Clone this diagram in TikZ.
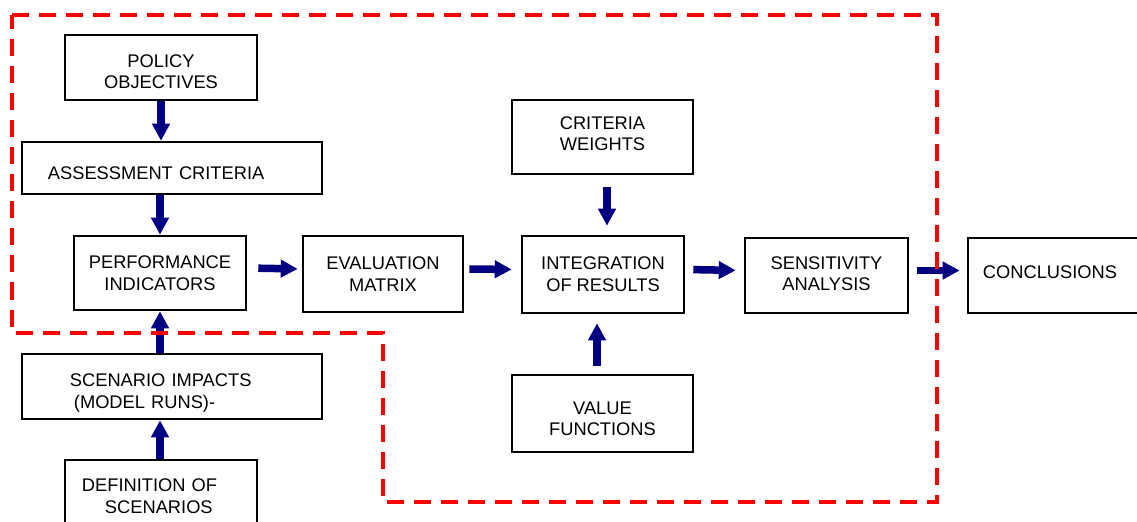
\documentclass[tikz,border=0pt]{standalone}
\usepackage{fontspec}
\setmainfont{Liberation Sans}
\usetikzlibrary{positioning}
\usetikzlibrary{arrows.meta}
\definecolor{arrowblue}{RGB}{0,0,128}
\definecolor{boundred}{RGB}{255,0,0}
% struts to move text a bit down (first line) or up (last line)
\newcommand{\dropby}[1]{\rule{0pt}{\dimexpr3.75pt+#1*2\relax}}
\newcommand{\liftby}[1]{\rule[-\dimexpr#1*2\relax]{0pt}{\dimexpr#1*2\relax}}
\tikzset{%
  r/.style = {rectangle,draw,line width=0.7pt,inner sep=0pt,align=center,
        font=\fontsize{5.2}{6.15}\selectfont},
  fat/.style = {-{Triangle[length=0.17cm,width=0.17cm]},draw=arrowblue,
        fill=arrowblue,line width=0.075cm},
  boundary/.style = {draw=boundred,line width=0.04cm,
        dash pattern=on 0.17cm off 0.1cm}
}
\begin{document}
\begin{tikzpicture}[x=0.01cm,y=-0.01cm]
                \useasboundingbox (0,0) rectangle (1137,521);
                \clip (0,0) rectangle (1137,521);
                % left column
                \node[r, minimum width=1.92cm, minimum height=0.65cm] (po) at (161,67.5) {\dropby{1.14pt}POLICY\\OBJECTIVES};
                \node[r, minimum height=0.52cm, text width=2.48cm, inner xsep=0.26cm, align=left] (ac) at (172,168) {\dropby{1.42pt}ASSESSMENT CRITERIA};
                \node[r, minimum width=1.72cm, minimum height=0.74cm] (pi) at (160,273) {PERFORMANCE\\INDICATORS};
                \node[r, minimum height=0.65cm, text width=2.04cm, inner xsep=0.48cm, align=left] (si) at (172,386.5) {\dropby{1.7pt}SCENARIO IMPACTS\\\hspace*{0.04cm}(MODEL RUNS)-};
                \node[r, minimum height=0.65cm, text width=1.58cm, inner xsep=0.17cm, align=left] (ds) at (161,492.5) {\dropby{1pt}DEFINITION OF\\\hspace*{0.23cm}SCENARIOS};
                % main row
                \node[r, minimum width=1.60cm, minimum height=0.76cm] (em) at (383,274) {EVALUATION\\MATRIX};
                \node[r, minimum width=1.62cm, minimum height=0.77cm] (ir) at (603,274.5) {INTEGRATION\\OF RESULTS};
                \node[r, minimum width=1.63cm, minimum height=0.75cm] (sa) at (826.5,275.5) {SENSITIVITY\\ANALYSIS\liftby{0.57pt}};
                \node[r, minimum height=0.75cm, text width=1.45cm, inner xsep=0.15cm, align=left] (co) at (1055.5,275.5) {CONCLUSIONS\liftby{0.85pt}};
                \node[r, minimum width=1.81cm, minimum height=0.74cm] (cw) at (602.5,137) {CRITERIA\\WEIGHTS\liftby{1pt}};
                \node[r, minimum width=1.81cm, minimum height=0.77cm] (vf) at (602.5,413.5) {\dropby{1.42pt}VALUE\\FUNCTIONS};

                \draw[fat] (po) -- (po |- ac.north);
                \draw[fat] (pi |- ac.south) -- (pi);
                \draw[fat] (pi |- si.north) -- (pi);
                \draw[fat] (pi |- ds.north) -- (pi |- si.south);
                \draw[fat, shorten <=0.11cm, shorten >=0.04cm] ([yshift=0.05cm]pi.east) -- ([yshift=0.05cm]em.west);
                \draw[fat, shorten <=0.05cm, shorten >=0.09cm] ([yshift=0.05cm]em.east) -- ([yshift=0.05cm]ir.west);
                \draw[fat, shorten <=0.08cm, shorten >=0.08cm] ([yshift=0.05cm]ir.east) -- ([yshift=0.05cm]sa.west);
                \draw[fat, shorten <=0.08cm, shorten >=0.07cm] ([yshift=0.05cm]sa.east) -- ([yshift=0.05cm]co.west);
                \draw[fat, shorten <=0.12cm, shorten >=0.09cm] ([xshift=0.045cm]cw.south) -- ([xshift=0.045cm]cw.south |- ir.north);
                \draw[fat, shorten <=0.08cm, shorten >=0.09cm] ([xshift=-0.055cm]vf.north) -- ([xshift=-0.055cm]vf.north |- ir.south);

                % assessment boundary
                \draw[boundary] (12,15) -- (937,15) -- (937,502) -- (383,502) -- (383,333) -- (12,333) -- cycle;
\end{tikzpicture}
\end{document}
